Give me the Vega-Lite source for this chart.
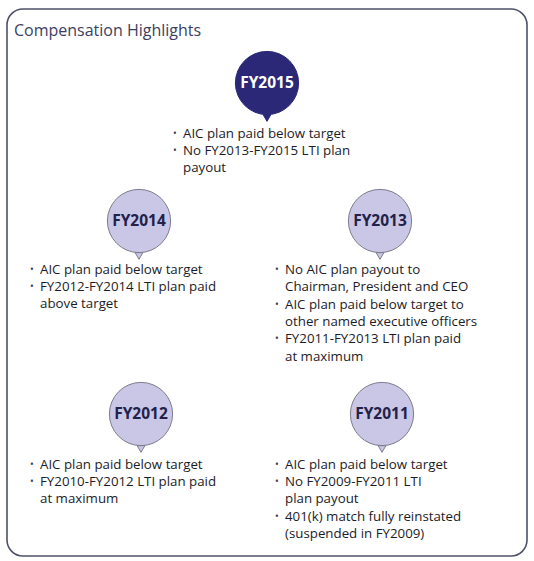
{
  "$schema": "https://vega.github.io/schema/vega-lite/v6.json",
  "width": 534,
  "height": 561,
  "padding": 0,
  "autosize": {"type": "fit", "contains": "padding"},
  "background": "white",
  "config": {"view": {"stroke": null}},
  "datasets": {
    "frame": [{"x": 7, "x2": 527, "y": 9, "y2": 556}],
    "circles": [
      {"year": "FY2015", "cx": 267, "cy": 83, "tone": "dark"},
      {"year": "FY2014", "cx": 139, "cy": 221, "tone": "light"},
      {"year": "FY2013", "cx": 380, "cy": 221, "tone": "light"},
      {"year": "FY2012", "cx": 141, "cy": 414, "tone": "light"},
      {"year": "FY2011", "cx": 382, "cy": 414, "tone": "light"}
    ],
    "lines": [
      {"x": 183, "y": 134, "text": "AIC plan paid below target", "bullet": true},
      {"x": 183, "y": 151, "text": "No FY2013-FY2015 LTI plan", "bullet": true},
      {"x": 183, "y": 168, "text": "payout", "bullet": false},
      {"x": 40, "y": 270, "text": "AIC plan paid below target", "bullet": true},
      {"x": 40, "y": 287, "text": "FY2012-FY2014 LTI plan paid", "bullet": true},
      {"x": 40, "y": 304, "text": "above target", "bullet": false},
      {"x": 285, "y": 270, "text": "No AIC plan payout to", "bullet": true},
      {"x": 285, "y": 287, "text": "Chairman, President and CEO", "bullet": false},
      {"x": 285, "y": 305, "text": "AIC plan paid below target to", "bullet": true},
      {"x": 285, "y": 322, "text": "other named executive officers", "bullet": false},
      {"x": 285, "y": 339, "text": "FY2011-FY2013 LTI plan paid", "bullet": true},
      {"x": 285, "y": 357, "text": "at maximum", "bullet": false},
      {"x": 40, "y": 465, "text": "AIC plan paid below target", "bullet": true},
      {"x": 40, "y": 482, "text": "FY2010-FY2012 LTI plan paid", "bullet": true},
      {"x": 40, "y": 499, "text": "at maximum", "bullet": false},
      {"x": 285, "y": 465, "text": "AIC plan paid below target", "bullet": true},
      {"x": 285, "y": 482, "text": "No FY2009-FY2011 LTI", "bullet": true},
      {"x": 285, "y": 499, "text": "plan payout", "bullet": false},
      {"x": 285, "y": 517, "text": "401(k) match fully reinstated", "bullet": true},
      {"x": 285, "y": 534, "text": "(suspended in FY2009)", "bullet": false}
    ]
  },
  "layer": [
    {
      "data": {"name": "frame"},
      "mark": {"type": "rect", "cornerRadius": 16, "fill": "white", "stroke": "#4e5168", "strokeWidth": 1.6},
      "encoding": {
        "x": {"field": "x", "type": "quantitative", "scale": {"domain": [0, 534], "nice": false, "zero": false}, "axis": null},
        "x2": {"field": "x2"},
        "y": {"field": "y", "type": "quantitative", "scale": {"domain": [0, 561], "nice": false, "zero": false, "reverse": true}, "axis": null},
        "y2": {"field": "y2"}
      }
    },
    {
      "data": {"values": [{"x": 14, "y": 31, "t": "Compensation Highlights"}]},
      "mark": {"type": "text", "align": "left", "baseline": "middle", "font": "Open Sans", "fontSize": 16, "color": "#3b3e63"},
      "encoding": {
        "x": {"field": "x", "type": "quantitative", "scale": {"domain": [0, 534]}, "axis": null},
        "y": {"field": "y", "type": "quantitative", "scale": {"domain": [0, 561], "reverse": true}, "axis": null},
        "text": {"field": "t"}
      }
    },
    {
      "data": {"name": "circles"},
      "transform": [{"calculate": "datum.cy + 35", "as": "ty"}],
      "mark": {"type": "point", "shape": "triangle-down", "size": 60, "filled": true, "strokeWidth": 1, "opacity": 1},
      "encoding": {
        "x": {"field": "cx", "type": "quantitative", "scale": {"domain": [0, 534]}, "axis": null},
        "y": {"field": "ty", "type": "quantitative", "scale": {"domain": [0, 561], "reverse": true}, "axis": null},
        "fill": {"field": "tone", "type": "nominal", "scale": {"domain": ["dark", "light"], "range": ["#2b2878", "#c9c7e5"]}, "legend": null},
        "stroke": {"field": "tone", "type": "nominal", "scale": {"domain": ["dark", "light"], "range": ["#2b2878", "#7c7c8c"]}, "legend": null}
      }
    },
    {
      "data": {"name": "circles"},
      "mark": {"type": "point", "shape": "circle", "size": 4000, "filled": true, "strokeWidth": 1, "opacity": 1},
      "encoding": {
        "x": {"field": "cx", "type": "quantitative", "scale": {"domain": [0, 534]}, "axis": null},
        "y": {"field": "cy", "type": "quantitative", "scale": {"domain": [0, 561], "reverse": true}, "axis": null},
        "fill": {"field": "tone", "type": "nominal", "scale": {"domain": ["dark", "light"], "range": ["#2b2878", "#c9c7e5"]}, "legend": null},
        "stroke": {"field": "tone", "type": "nominal", "scale": {"domain": ["dark", "light"], "range": ["#2b2878", "#7c7c8c"]}, "legend": null}
      }
    },
    {
      "data": {"name": "circles"},
      "mark": {"type": "text", "align": "center", "baseline": "middle", "font": "Open Sans", "fontWeight": "bold", "fontSize": 15.5, "letterSpacing": -0.4},
      "encoding": {
        "x": {"field": "cx", "type": "quantitative", "scale": {"domain": [0, 534]}, "axis": null},
        "y": {"field": "cy", "type": "quantitative", "scale": {"domain": [0, 561], "reverse": true}, "axis": null},
        "text": {"field": "year"},
        "color": {"field": "tone", "type": "nominal", "scale": {"domain": ["dark", "light"], "range": ["#ffffff", "#22214a"]}, "legend": null}
      }
    },
    {
      "data": {"name": "lines"},
      "mark": {"type": "text", "align": "left", "baseline": "middle", "font": "Open Sans", "fontSize": 13.3, "letterSpacing": 0.5, "color": "#1c1c28"},
      "encoding": {
        "x": {"field": "x", "type": "quantitative", "scale": {"domain": [0, 534]}, "axis": null},
        "y": {"field": "y", "type": "quantitative", "scale": {"domain": [0, 561], "reverse": true}, "axis": null},
        "text": {"field": "text"}
      }
    },
    {
      "data": {"name": "lines"},
      "transform": [{"filter": "datum.bullet"}, {"calculate": "datum.x - 10", "as": "bx"}],
      "mark": {"type": "text", "align": "left", "baseline": "middle", "font": "Open Sans", "fontSize": 10, "color": "#3a3a48"},
      "encoding": {
        "x": {"field": "bx", "type": "quantitative", "scale": {"domain": [0, 534]}, "axis": null},
        "y": {"field": "y", "type": "quantitative", "scale": {"domain": [0, 561], "reverse": true}, "axis": null},
        "text": {"value": "•"}
      }
    }
  ]
}
